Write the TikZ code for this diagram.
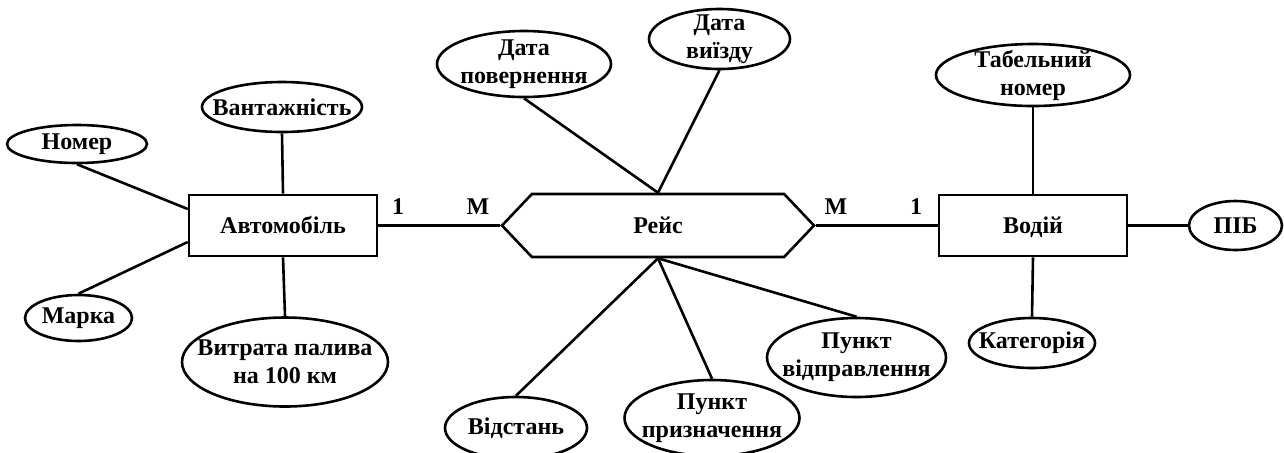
\documentclass[tikz,border=0pt]{standalone}
\usepackage{fontspec}
\setmainfont{Liberation Serif}
\usetikzlibrary{shapes.geometric,shapes.symbols}

\begin{document}
\begin{tikzpicture}[x=.5pt, y=-.5pt, line width=1.3pt,
    every node/.style={font=\fontsize{12}{14}\selectfont\bfseries},
    entity/.style={draw, rectangle, minimum width=94pt, minimum height=30.5pt, inner sep=0pt,
                   text height=9.5pt, text depth=2pt},
    relation/.style={draw, signal, signal to=west and east, signal pointer angle=93,
                     minimum width=156pt, minimum height=31.5pt, inner sep=0pt,
                     text height=9.5pt, text depth=2pt},
    attr/.style 2 args={draw, ellipse, inner sep=-40pt, align=center,
                        minimum width=#1, minimum height=#2}]
             \useasboundingbox (0,0) rectangle (1284,452);

             \node[entity] (avto) at (283,225.5) {Автомобіль};
             \node[relation] (reis) at (658,225.5) {Рейс};
             \node[entity] (vodiy) at (1033,225.5) {Водій};

             \node[attr={70pt}{19pt}] (nomer) at (77,144) {Номер};
             \node[attr={80pt}{25pt}] (vantazh) at (282,107) {Вантажність};
             \node[attr={53.5pt}{23pt}] (marka) at (78.5,318) {Марка};
             \node[attr={103pt}{44.5pt}] (vytrata) at (285,362) {Витрата палива\\на 100 км};

             \node[attr={87pt}{33pt}] (povern) at (524,64) {Дата\\повернення};
             \node[attr={70.5pt}{30pt}] (vyizd) at (719.5,39) {Дата\\виїзду};
             \node[attr={71pt}{31pt}] (vidstan) at (516,428) {Відстань};
             \node[attr={87.5pt}{38pt}] (pryzn) at (712,418) {Пункт\\призначення};
             \node[attr={89.5pt}{39.5pt}] (vidpr) at (856.5,357.5) {Пункт\\відправлення};

             \node[attr={97pt}{31pt}] (tabel) at (1033,75) {Табельний\\номер};
             \node[attr={46.5pt}{24.5pt}] (pib) at (1235.5,225.5) {ПІБ};
             \node[attr={63pt}{25pt}] (kateh) at (1032,343) {Категорія};

             \node (one1) at (398,207) {1};
             \node (many1) at (478,207) {М};
             \node (many2) at (836,207) {М};
             \node (one2) at (916,207) {1};

             \draw (avto.east) -- (reis.west);
             \draw (reis.east) -- (vodiy.west);

             \draw (nomer.south) -- ([yshift=8.25pt]avto.west);
             \draw (marka.north) -- ([yshift=-8.25pt]avto.west);
             \draw (vantazh.south) -- (avto.north);
             \draw (avto.south) -- (vytrata.north);

             \draw (povern.south) -- (reis.north);
             \draw (vyizd.south) -- (reis.north);
             \draw (reis.south) -- (vidstan.north);
             \draw (reis.south) -- (pryzn.north);
             \draw (reis.south) -- (vidpr.north);

             \draw (tabel.south) -- (vodiy.north);
             \draw (vodiy.east) -- (pib.west);
             \draw (vodiy.south) -- (kateh.north);
\end{tikzpicture}
\end{document}
